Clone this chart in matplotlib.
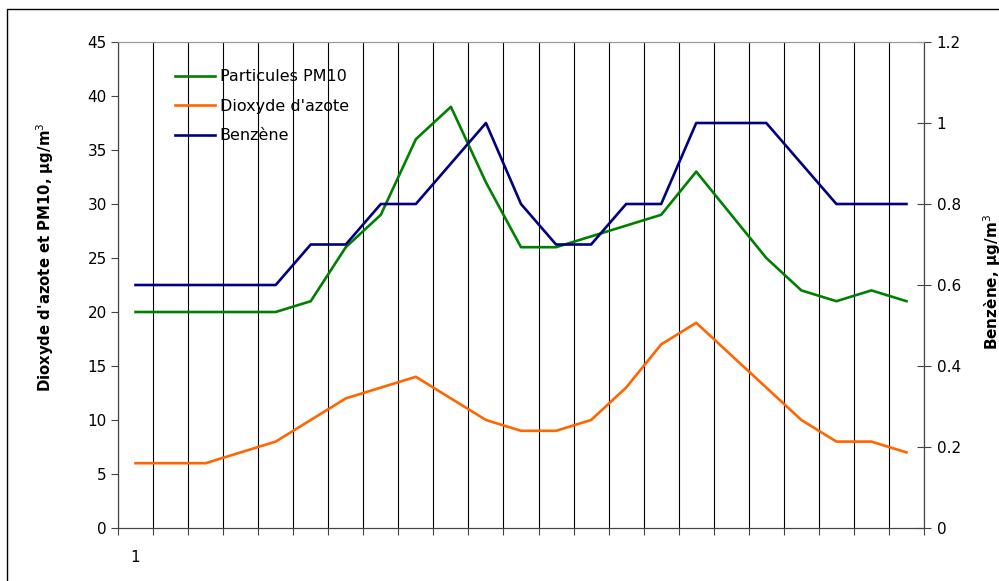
import numpy as np
import matplotlib.pyplot as plt
from matplotlib.patches import Rectangle

# ─── Data ────────────────────────────────────────────────────────────
days = np.arange(1, 24)
pm10 = [20, 20, 20, 20, 20, 21, 26, 29, 36, 39, 32, 26, 26, 27, 28, 29, 33, 29, 25, 22, 21, 22, 21]
no2 = [6, 6, 6, 7, 8, 10, 12, 13, 14, 12, 10, 9, 9, 10, 13, 17, 19, 16, 13, 10, 8, 8, 7]
benzene = [0.6, 0.6, 0.6, 0.6, 0.6, 0.7, 0.7, 0.8, 0.8, 0.9, 1.0, 0.8, 0.7, 0.7, 0.8, 0.8,
           1.0, 1.0, 1.0, 0.9, 0.8, 0.8, 0.8]
left_ticks = [0, 5, 10, 15, 20, 25, 30, 35, 40, 45]
right_ticks = [0, 0.2, 0.4, 0.6, 0.8, 1.0, 1.2]
right_labels = ['0', '0.2', '0.4', '0.6', '0.8', '1', '1.2']

plt.rcParams['font.family'] = ['DejaVu Sans']
fs = 11

fig = plt.figure(figsize=(9.99, 5.81), dpi=100)
ax = fig.add_axes([118 / 999, 1 - 528 / 581, (924 - 118) / 999, (528 - 42) / 581])
ax2 = ax.twinx()

# outer chart frame (runs off the right and bottom edges, as in the original)
fig.patches.append(Rectangle((7 / 999, -0.1), 1.2, 1 - 9 / 581 + 0.1, transform=fig.transFigure,
                             fill=False, edgecolor='black', linewidth=1.0))

l1, = ax.plot(days, pm10, color='#008000', lw=1.9, label='Particules PM10')
l2, = ax.plot(days, no2, color='#FF6600', lw=1.9, label="Dioxyde d'azote")
l3, = ax2.plot(days, benzene, color='#000080', lw=1.9, label='Benzène')

ax.set_xlim(0.5, 23.5)
ax.set_ylim(0, 45)
ax2.set_ylim(0, 1.2)

bounds = np.arange(0.5, 24, 1.0)
ax.set_xticks(bounds)
ax.set_xticklabels([''] * len(bounds))
ax.set_xticks([1], labels=['1'], minor=True)
ax.tick_params(axis='x', which='major', direction='out', length=5, color='#444444')
ax.tick_params(axis='x', which='minor', length=0, pad=16, labelsize=fs)
ax.grid(axis='x', which='major', color='black', linewidth=0.8)

ax.set_yticks(left_ticks)
ax.tick_params(axis='y', direction='out', length=5, labelsize=fs, color='#444444', pad=3)
ax2.set_yticks(right_ticks, labels=right_labels)
ax2.tick_params(axis='y', direction='inout', length=10, labelsize=fs, color='#444444', pad=4)

for a in (ax, ax2):
    a.spines['top'].set_color('#999999')
    a.spines['left'].set_color('#444444')
    a.spines['right'].set_color('#444444')
    a.spines['bottom'].set_color('#444444')

fig.text(45 / 999, 1 - 257 / 581, "Dioxyde d'azote et PM10, µg/m$^3$", rotation=90,
         ha='center', va='center', fontsize=10.7, fontweight='bold')
fig.text(992 / 999, 1 - 282 / 581, 'Benzène, µg/m$^3$', rotation=90,
         ha='center', va='center', fontsize=fs, fontweight='bold')

ax.legend(handles=[l1, l2, l3], loc='upper left', bbox_to_anchor=(0.061, 0.96),
          frameon=False, fontsize=11.5, handlelength=2.5, handletextpad=0.3,
          labelspacing=0.9, borderpad=0)

plt.savefig('out.png', dpi=100)
